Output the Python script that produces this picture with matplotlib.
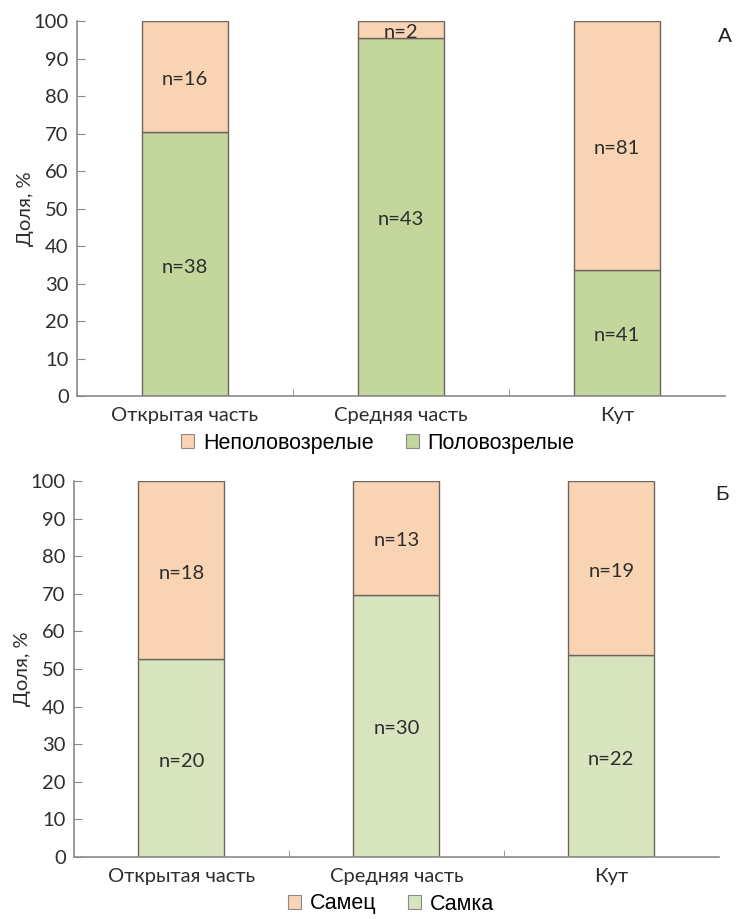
import matplotlib
matplotlib.use("Agg")
import matplotlib.pyplot as plt
from matplotlib.patches import Patch
import numpy as np

plt.rcParams['font.family'] = ['Lato', 'DejaVu Sans']

categories = ["Открытая часть", "Средняя часть", "Кут"]

# Panel A: maturity counts
mature_n = [38, 43, 41]
immature_n = [16, 2, 81]

# Panel Б: sex counts
female_n = [20, 30, 22]
male_n = [18, 13, 19]

yticks = [0, 10, 20, 30, 40, 50, 60, 70, 80, 90, 100]

PEACH = "#f9d4b4"
GREEN_A = "#c3d69b"
GREEN_B = "#d7e4bd"
EDGE = "#6e665e"
AXIS = "#8a8a8a"
TEXT = "#2e2e2e"
FS = 14.5

fig = plt.figure(figsize=(7.55, 9.19), dpi=100)


def panel(rect, lower_n, upper_n, lower_color, letter, letter_xy, legend_items, legend_xy):
    ax = fig.add_axes(rect)
    lower_n = np.array(lower_n, dtype=float)
    upper_n = np.array(upper_n, dtype=float)
    total = lower_n + upper_n
    lower_pct = lower_n / total * 100
    upper_pct = upper_n / total * 100
    x = np.arange(len(categories))
    ax.bar(x, lower_pct, width=0.4, color=lower_color, edgecolor=EDGE, linewidth=1.0)
    ax.bar(x, upper_pct, width=0.4, bottom=lower_pct, color=PEACH, edgecolor=EDGE, linewidth=1.0)
    for xi, lp, up, ln, un in zip(x, lower_pct, upper_pct, lower_n, upper_n):
        ax.text(xi, lp / 2 - 0.8, f"n={int(ln)}", ha="center", va="center",
                fontsize=FS, color=TEXT)
        ax.text(xi, lp + up / 2 - 0.8, f"n={int(un)}", ha="center", va="center",
                fontsize=FS, color=TEXT)
    ax.set_xlim(-0.5, 2.5)
    ax.set_ylim(0, 100)
    ax.set_yticks(yticks)
    ax.set_xticks(x)
    ax.set_xticklabels(categories, fontsize=FS, color=TEXT)
    ax.set_xticks([0.5, 1.5], minor=True)
    ax.tick_params(axis="x", which="major", length=0, pad=8)
    ax.tick_params(axis="x", which="minor", direction="in", length=5, color=AXIS)
    ax.tick_params(axis="y", direction="in", length=6, color=AXIS, labelsize=FS,
                   labelcolor=TEXT, pad=6)
    for s in ("top", "right"):
        ax.spines[s].set_visible(False)
    for s in ("left", "bottom"):
        ax.spines[s].set_color(AXIS)
        ax.spines[s].set_linewidth(1.2)
    ax.set_ylabel("Доля, %", fontsize=FS, color=TEXT, labelpad=0)
    fig.text(letter_xy[0], letter_xy[1], letter, fontsize=15, color="#222222",
             family=["Liberation Sans", "DejaVu Sans"], ha="center", va="center")
    handles = [Patch(facecolor=c, edgecolor="#8a8a8a", linewidth=0.8, label=l)
               for l, c in legend_items]
    fig.legend(handles=handles, loc="center", bbox_to_anchor=legend_xy, ncol=2,
               frameon=False, handlelength=0.6, handleheight=0.6, handletextpad=0.4,
               columnspacing=1.5,
               prop={"family": ["Liberation Sans", "DejaVu Sans"], "size": 15.5})
    return ax


panel([0.102, 0.5691, 0.858, 0.408], mature_n, immature_n, GREEN_A, "А",
      (725 / 755, 1 - 36 / 919),
      [("Неполовозрелые", PEACH), ("Половозрелые", GREEN_A)],
      (378 / 755, 1 - 443 / 919))

panel([0.098, 0.0675, 0.854, 0.409], female_n, male_n, GREEN_B, "Б",
      (722 / 755, 1 - 494 / 919),
      [("Самец", PEACH), ("Самка", GREEN_B)],
      (391 / 755, 1 - 904 / 919))

fig.savefig("out.png", dpi=100, facecolor="white")
